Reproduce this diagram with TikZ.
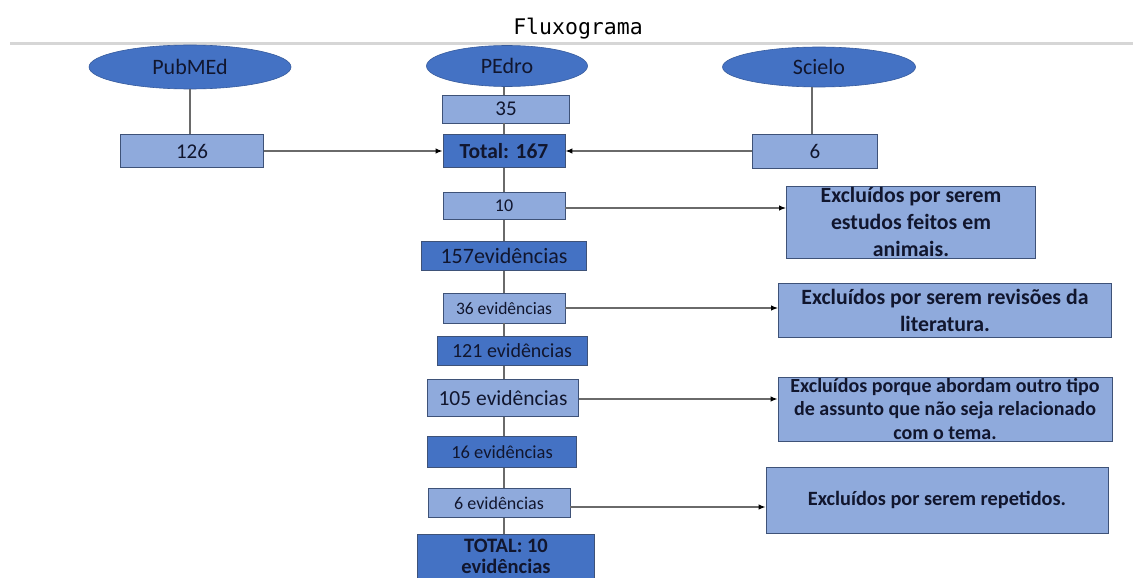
\documentclass[tikz,border=0pt]{standalone}
\usepackage{fontspec}
\setmainfont{Carlito}
\newfontfamily\titlefont{DejaVu Sans Mono}
\usetikzlibrary{shapes.geometric, arrows.meta}

\definecolor{boxlite}{HTML}{8FAADC}
\definecolor{boxdeep}{HTML}{4472C4}
\definecolor{boxrim}{HTML}{3E5278}
\definecolor{ink}{HTML}{11162E}
\definecolor{wire}{HTML}{6A6A6A}
\definecolor{rule}{HTML}{D6D6D6}

\newcommand{\fs}[2]{\fontsize{#1}{#2}\selectfont}

\tikzset{
  base/.style = {draw=boxrim, line width=0.9pt, text=ink, inner sep=0pt, align=center},
  src/.style = {ellipse, fill=boxdeep, draw=boxdeep!80!black, line width=0.6pt,
                text=ink, inner sep=0pt, font=\fs{22}{24}},
  lite/.style = {base, fill=boxlite, font=\fs{21}{24}},
  deep/.style = {base, fill=boxdeep, font=\fs{21}{24}},
  excl/.style = {base, fill=boxlite, font=\bfseries\fs{21.8}{27}},
  link/.style = {draw=wire, line width=1.2pt},
  flow/.style = {link, -{Latex[length=7pt, width=5.5pt, color=black]}},
}

\begin{document}
\begin{tikzpicture}[x=1pt, y=-1pt]
\useasboundingbox (0,0) rectangle (1133,578);
\clip (0,0) rectangle (1133,578);

% title and rule
\node[font=\titlefont\fs{21.5}{24}, anchor=base] (title) at (578,35) {Fluxograma};
\draw[rule, line width=3pt] (10,44) -- (1133,44);

% sources
\node[src, minimum width=202, minimum height=44] (pubmed) at (190,67) {PubMEd};
\node[src, minimum width=161, minimum height=41] (pedro)  at (507,66) {PEdro};
\node[src, minimum width=193, minimum height=40] (scielo) at (819,67) {Scielo};

\node[lite, minimum width=143, minimum height=33] (n126) at (192,151) {126};
\node[lite, minimum width=127, minimum height=28] (n35)  at (506,109) {35};
\node[deep, minimum width=122, minimum height=33, font=\bfseries\fs{21.5}{24}] (total) at (504,151) {Total: 167};
\node[lite, minimum width=125, minimum height=34] (n6)   at (815,151) {6};

% screening steps
\node[lite, minimum width=122, minimum height=27, font=\fs{18}{20}] (n10) at (504,206) {10};
\node[deep, minimum width=165, minimum height=29, font=\fs{22}{24}] (n157) at (504,256) {157evidências};
\node[lite, minimum width=122, minimum height=30, font=\fs{17.5}{20}] (n36) at (504,308) {36 evidências};
\node[deep, minimum width=150, minimum height=29, font=\fs{20}{24}] (n121) at (512,351) {121 evidências};
\node[lite, minimum width=151, minimum height=37, font=\fs{21.5}{24}] (n105) at (503,398) {105 evidências};
\node[deep, minimum width=149, minimum height=31, font=\fs{18.5}{22}] (n16) at (502,452) {16 evidências};
\node[lite, minimum width=142, minimum height=29, font=\fs{18}{22}] (n6b) at (499,503) {6 evidências};
\node[deep, minimum width=177, minimum height=44, font=\bfseries\fs{20.5}{21}] (final) at (506,556) {TOTAL: 10\\evidências};

% exclusions
\node[excl, minimum width=249, minimum height=72] (ex1) at (911,222)
  {Excluídos por serem\\estudos feitos em\\animais.};
\node[excl, minimum width=333, minimum height=54] (ex2) at (945,310)
  {Excluídos por serem revisões da\\literatura.};
\node[excl, minimum width=334, minimum height=64, font=\bfseries\fs{20}{23.5}] (ex3) at (945,409)
  {Excluídos porque abordam outro tipo\\de assunto que não seja relacionado\\com o tema.};
\node[excl, minimum width=342, minimum height=66, font=\bfseries\fs{20.3}{24}] (ex4) at (937,500)
  {Excluídos por serem repetidos.};

\coordinate (spine) at (504,0);

% connectors
\draw[link] (pubmed.south) -- (pubmed.south |- n126.north);
\draw[link] ([xshift=-3pt]n6.north) -- ([xshift=-3pt]n6.north |- scielo.south);
\draw[flow] (n126.east) -- (total.west);
\draw[flow] (n6.west) -- (total.east);
\foreach \a/\b in {pedro/n35, n35/total, total/n10, n10/n157, n157/n36,
                   n36/n121, n121/n105, n105/n16, n16/n6b, n6b/final}
  \draw[link] (\a.south -| spine) -- (\b.north -| spine);
\draw[flow] ([yshift=-2pt]n10.east)  -- ([yshift=-2pt]n10.east -| ex1.west);
\draw[flow] (n36.east)  -- (n36.east -| ex2.west);
\draw[flow] ([yshift=-1pt]n105.east) -- ([yshift=-1pt]n105.east -| ex3.west);
\draw[flow] ([yshift=-4pt]n6b.east)  -- ([yshift=-4pt]n6b.east -| ex4.west);
\end{tikzpicture}
\end{document}
